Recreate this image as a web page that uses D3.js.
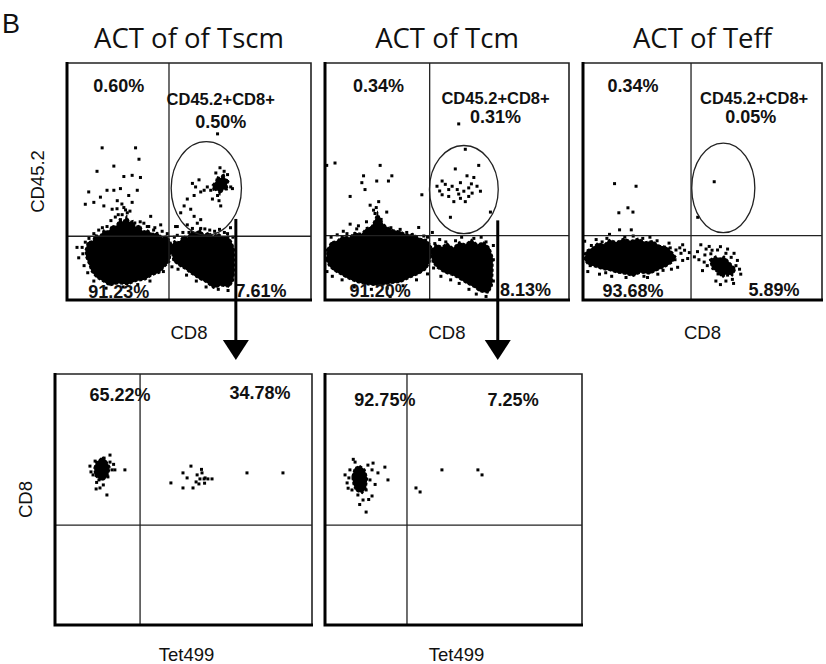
<!DOCTYPE html>
<html>
<head>
<meta charset="utf-8">
<script src="https://cdn.jsdelivr.net/npm/d3@7/dist/d3.min.js"></script>
<style>
  body { margin: 0; background: #fff; }
  svg { display: block; }
</style>
</head>
<body>
<script>
// ---- data (channel values scaled 0-100 on both axes) ----
const panelLetter = "B";
const topTitles = ["ACT of of Tscm", "ACT of Tcm", "ACT of Teff"];
const topXLabel = "CD8";
const topYLabel = "CD45.2";
const bottomXLabel = "Tet499";
const bottomYLabel = "CD8";
const gateName = "CD45.2+CD8+";

// quadrant gates [x, y] and oval gate [cx, cy, rx, ry]
const topQuadGates = [[41.8, 26.9], [42.9, 27.2], [45.2, 27.2]];
const topOvalGates = [[57.1, 47.1, 14.4, 19.7], [56.9, 46.6, 14.1, 18.6], [58.7, 47.3, 13.2, 18.9]];
const bottomQuadGates = [[33.1, 39.8], [31.9, 39.8]];

// percentages: upper-left, oval, lower-left, lower-right
const topPercents = [
  ["0.60%", "0.50%", "91.23%", "7.61%"],
  ["0.34%", "0.31%", "91.20%", "8.13%"],
  ["0.34%", "0.05%", "93.68%", "5.89%"]
];
// percentages: left, right
const bottomPercents = [["65.22%", "34.78%"], ["92.75%", "7.25%"]];

// dense event regions (outlines of the saturated clouds)
const tscmDense = [
  [[7.5,21],[8.5,24.5],[10.5,25],[11.5,27.5],[13.5,27],[15,29.5],[17,29],[18.5,31.5],[20,31],[21.5,34],[23,33],[24.5,35.5],[25.5,33],[27,33.5],[28,31],[30,31.5],[31,29],[33,29.5],[35,28],[37,28.5],[39,26.5],[41,27],[42.5,24.5],[43.5,22],[42.5,19],[42,16],[40,14],[38,11.5],[35,10.5],[32,8.5],[28.5,8],[25,6.5],[21,7],[17.5,6],[14.5,8],[12,9.5],[10,12],[9,15],[7.8,18]],
  [[42.5,22.5],[44,25],[46,24.5],[47.5,27],[49.5,26.5],[51,29],[53,28.5],[54.5,30],[56,27.5],[58,28.5],[60,27],[62,28],[64,26.5],[66,27],[67.5,24.5],[68.6,21.5],[68.6,17],[68.6,12],[68.2,8],[66.5,5.5],[63,6],[60,5],[57,7.5],[54,9],[51,11],[48.5,13],[46,14.5],[43.5,16.5]],
  [[59.6,48.5],[61,50],[61.4,52],[63,51.5],[64.1,53.5],[65,51],[66.5,50.5],[65.5,48.5],[66,46.5],[64,46.5],[62.7,44.5],[61.5,46.5],[60,46]]
];
const tcmDense = [
  [[0.5,17],[1,21.5],[2.5,24.5],[5,25],[7,27],[10,26.5],[12,28.5],[15,28],[17,30.5],[19,31],[20.5,34],[21.5,37],[22.5,34.5],[24,32],[26,30.5],[28,29.5],[31,29],[33.5,27.5],[36,28],[39,26],[41.5,25.5],[43.5,23],[44,20],[43,16],[41.5,13],[38.5,11],[35,9.5],[31,7.5],[27,7],[22,6],[17,6.5],[13,7.5],[9.5,9],[6,11],[3.5,12.5],[1.5,14.5]],
  [[43.5,21],[45.5,23.5],[48,22.5],[50,24],[52.5,22],[55,24.5],[57.5,23.5],[60,25.5],[62.5,23.5],[65,24.5],[67.5,22],[68.8,18],[68.8,12],[68.5,6],[67,3],[63.5,3.5],[61,5.5],[58,7],[55,9],[52,10.5],[49,11.5],[46,13.5],[44,16]]
];
const teffDense = [
  [[0.5,17],[1.5,21],[4,22],[6,24],[9,23.5],[11,25.5],[14,24.5],[17,26],[20,25],[23,26],[26,24.5],[29,25],[32,23],[35,22.5],[37.5,20],[39,18],[37,15.5],[34.5,14],[31,12.5],[28,11],[24,11.5],[21,10],[17.5,11],[14,11.5],[11,12.5],[8,13],[5,14],[2,15]],
  [[53,17],[55.5,18.5],[57,17.5],[59,18.5],[61.2,16],[63.9,13.1],[62.5,10.2],[60,11],[58.4,9.5],[56,12],[54,13.1]]
];

// individual events
const tscmEvents = [
  [14.4,64.2],[28.1,64.2],[29.5,59.4],[19.2,56.5],[12.3,54.3],[23.3,52.1],[26.7,52.6],[30.1,51.7],
  [8.9,45.6],[16.4,46.3],[19.2,46.3],[21.9,47.0],[25.3,44.1],[28.8,46.3],[7.5,40.4],[13.7,43.4],
  [20.6,41.9],[11.0,41.2],[15.1,39.7],[18.5,38.3],[23.3,39.0],[26.7,41.2],[24.7,36.8],[31.5,32.4],
  [34.3,35.3],[38.4,31.7],[44.5,31.0],[61.7,70.1],[4.1,22.2],[4.8,17.8],
  [51.4,49.2],[52.7,47.7],[54.1,50.7],[54.8,45.6],[52.1,44.1],[49.3,42.6],[48.0,39.7],[46.6,36.8],
  [50.7,38.3],[52.1,35.3],[53.4,32.4],[54.8,33.9],[56.2,46.3],[57.5,47.7],[58.9,46.3],[59.6,42.6],
  [61.7,44.1],[62.3,41.9],[63.0,39.7],[65.8,52.9],[67.1,47.7],[67.8,47.0],[45.2,31.0],[49.3,31.7],
  [51.4,30.2],[61.0,53.6],[62.7,55.8],[64.4,54.3],
  [6.2,22.2],[7.5,24.4],[11.0,28.0],[16.4,31.0],[21.9,33.9],[32.9,31.0],[41.1,28.0],[45.2,27.3],
  [54.8,30.2],[65.8,28.0],[22.6,36.0],[19.8,35.0],[25.8,37.5],[27.8,32.5],[14.5,30.5],[9.0,26.0],
  [47.5,28.5],[58.5,29.5],[62.5,29.8],[67.0,30.5],[35.5,29.5],[39.0,29.0],
  [20.5,38.5],[22.5,40.5],[24.0,38.0],[21.0,36.0],[18.0,33.5],[13.0,29.5],[6.5,19.5],[7.0,14.5],
  [8.5,11.5],[11.0,8.0],[16.0,5.0],[23.0,5.5],[29.0,6.5],[34.0,8.0],[39.5,12.0],[43.0,14.0],
  [44.5,19.5],[45.5,13.0],[49.0,10.5],[53.0,8.0],[57.0,5.5],[62.0,4.5],[66.0,4.0],[44.0,26.5],
  [50.0,28.5],[56.5,30.0],[60.5,29.0],[64.5,28.5],[68.0,26.5],[36.0,30.5],[30.0,33.0],[33.5,31.0]
];
const tcmEvents = [
  [4.1,57.8],[0.7,56.8],[22.6,56.8],[15.8,52.4],[27.4,52.4],[26.0,50.2],[15.1,49.5],[21.2,50.2],
  [16.4,46.6],[10.3,43.7],[18.5,40.0],[19.9,37.9],[25.3,37.1],[39.7,44.4],[10.3,32.0],[13.7,31.3],
  [38.4,30.6],[30.8,29.8],[26.7,1.5],[54.8,74.3],
  [57.5,63.6],[53.4,55.3],[63.0,56.8],[58.2,52.4],[61.0,51.7],[48.0,50.2],[45.9,48.0],[49.3,48.8],
  [52.1,48.0],[54.2,46.6],[55.5,49.5],[56.9,45.9],[58.9,47.3],[60.3,45.1],[62.3,48.0],[63.7,45.9],
  [48.0,44.4],[50.7,43.7],[52.8,41.5],[55.5,42.9],[57.5,41.5],[58.9,43.7],[51.4,34.9],[67.8,37.1],
  [50.7,46.6],[54.8,44.7],[47.0,46.0],[60.0,49.0],
  [5.0,27.5],[9.0,28.0],[17.0,33.0],[20.5,36.5],[23.0,34.0],[27.0,30.5],[33.5,28.5],[40.5,27.0],
  [0.8,21.0],[45.0,23.8],[49.5,24.5],[56.0,26.5],[61.0,26.0],[66.0,24.5],[69.0,17.0],[42.0,26.5],
  [21.0,39.0],[22.0,41.5],[2.5,26.5],[0.8,12.0],[3.0,10.0],[7.0,8.5],[12.0,5.5],[19.0,4.5],
  [25.5,5.0],[32.0,6.0],[37.5,8.5],[42.0,11.0],[44.5,13.5],[45.5,18.0],[47.5,10.0],[51.5,8.5],
  [55.0,7.0],[59.0,4.5],[62.0,2.5],[66.0,1.5],[69.0,8.0],[69.0,23.0],[64.0,26.5],[53.5,25.0],
  [47.0,25.5],[44.0,28.5],[13.0,30.0],[7.5,29.0]
];
const teffEvents = [
  [13.2,49.1],[22.2,48.0],[15.0,36.8],[18.8,38.9],[20.9,37.1],[15.3,29.6],[20.2,29.6],[11.1,27.7],
  [54.9,49.9],[48.0,34.9],[0.7,24.8],[2.8,18.2],[38.9,21.1],[41.0,19.7],[41.7,16.7],[43.8,17.5],
  [46.6,18.2],[47.9,20.4],[49.3,23.3],[52.8,22.6],[50.7,16.0],[50.0,12.4],[56.3,21.1],[59.8,19.7],
  [63.2,19.7],[64.6,16.7],[66.0,10.9],[55.6,8.0],[59.8,8.0],[62.5,8.7],[34.8,15.3],[39.6,13.8],
  [41.7,23.3],[31.3,10.9],[6.9,10.9],
  [5.5,25.5],[10.0,26.0],[17.5,26.5],[25.0,26.0],[31.0,25.0],[36.5,22.0],[38.5,17.0],[3.0,14.5],
  [9.5,11.5],[18.0,9.5],[25.5,10.0],[33.5,12.5],[53.5,19.5],[55.0,15.0],[57.5,13.0],[60.0,14.5],
  [61.5,12.0],[58.5,17.0],[52.0,14.5],[56.5,11.0],[64.0,14.5],[60.5,10.5],
  [40.5,22.0],[42.5,21.0],[44.5,20.0],[36.0,24.0],[28.0,26.5],[21.0,27.0],[8.0,24.5],[3.5,23.0],
  [1.0,19.5],[2.0,12.0],[12.0,10.0],[27.0,9.5],[37.0,13.0],[51.5,21.5],[54.0,21.0],[57.5,22.5],
  [60.5,21.5],[48.5,17.0],[51.0,19.0],[62.0,18.0],[65.5,13.0],[63.0,7.0],[57.5,6.5]
];
const tscmTetDense = [[[15.2,62.5],[16,65],[17.1,65.7],[18.5,67],[19.8,65.7],[21.4,62.9],[20.8,60],[20.2,58.9],[18.5,57.5],[17.1,58.2],[15.5,59.5]]];
const tscmTetEvents = [
  [13.6,63.3],[14.8,59.8],[15.6,65.3],[16.7,61.8],[17.1,57.8],[17.9,64.5],[18.7,60.2],[19.1,66.5],
  [19.8,62.5],[20.6,59.0],[21.4,64.9],[22.2,61.8],[17.5,54.6],[16.0,54.2],[20.2,51.8],[23.3,61.8],
  [27.2,61.8],[21.4,67.7],[14.0,61.0],[16.2,56.8],[18.8,55.8],[22.8,64.0],
  [45.1,56.6],[49.8,60.6],[52.9,63.3],[51.4,58.6],[55.3,59.8],[57.2,60.6],[58.4,58.6],[56.4,58.2],
  [58.0,58.2],[59.5,58.2],[61.1,58.2],[49.8,54.6],[53.7,54.6],[56.0,56.2],[54.9,57.0],[74.7,60.6],
  [88.7,60.6],[57.0,62.0],[58.2,56.5]
];
const tcmTetDense = [[[10.5,59],[11.5,62.5],[13.5,63.5],[15.5,62],[16.5,58.5],[16,54.5],[14.5,52.5],[12,53.5],[11,56]]];
const tcmTetEvents = [
  [7.8,59.8],[8.6,56.6],[9.7,61.8],[10.5,53.8],[11.7,64.9],[12.1,58.6],[12.8,51.8],[13.6,62.5],
  [14.0,55.8],[14.8,49.8],[15.2,59.8],[16.0,53.8],[16.7,63.7],[17.5,57.8],[18.3,61.8],[18.7,64.5],
  [20.6,60.6],[23.3,62.9],[24.5,57.8],[16.0,45.0],[18.3,51.4],[9.3,58.6],[11.3,60.0],[13.0,56.5],
  [45.5,61.8],[59.5,61.8],[61.1,59.8],[35.4,54.6],[37.0,53.0],[9.0,54.5],[13.5,48.0],[17.0,50.0],
  [19.5,56.0],[11.0,66.0]
];

const topDense = [tscmDense, tcmDense, teffDense];
const topEvents = [tscmEvents, tcmEvents, teffEvents];
const bottomDense = [tscmTetDense, tcmTetDense];
const bottomEvents = [tscmTetEvents, tcmTetEvents];

// ---- layout ----
const W = 826, H = 664;
const topBoxes = [
  {left: 67, right: 311, top: 63, bottom: 300},
  {left: 325, right: 569, top: 63, bottom: 300},
  {left: 583, right: 822, top: 63, bottom: 300}
];
const bottomBoxes = [
  {left: 55, right: 312, top: 374, bottom: 625},
  {left: 325, right: 582, top: 374, bottom: 625}
];
// label anchors (data units): upper-left, gate name, oval %, lower-left, lower-right
const topLabelPos = [
  [[21.2, 90.2], [63.0, 85.0], [63.0, 74.9], [21.2, 3.2], [79.5, 4.0]],
  [[21.9, 90.3], [69.9, 85.2], [69.9, 77.2], [22.6, 3.6], [82.2, 4.4]],
  [[20.9, 90.3], [71.6, 85.2], [70.2, 77.2], [20.9, 3.6], [79.9, 4.4]]
];
const bottomLabelPos = [[[25.3, 91.6], [79.8, 92.4]], [[23.3, 89.6], [73.2, 89.6]]];
// arrow leaves the oval gate at [x, y] of the top plot
const arrowStarts = [[69.2, 34.2], [70.8, 33.6]];

const svg = d3.select('body').append('svg').attr('width', W).attr('height', H);

let blobLine = (x, y) => d3.line().x(d => x(d[0])).y(d => y(d[1])).curve(d3.curveLinearClosed);

let drawPlot = function(box, dense, events, gate) {
  let x = d3.scaleLinear().domain([0, 100]).range([box.left, box.right]);
  let y = d3.scaleLinear().domain([0, 100]).range([box.bottom, box.top]);
  let g = svg.append('g').attr('class', 'plot');

  g.selectAll('.blob').data(dense).enter().append('path')
    .attr('class', 'blob')
    .attr('d', blobLine(x, y))
    .attr('fill', '#000')
    .attr('stroke', '#000')
    .attr('stroke-width', 1.5)
    .attr('stroke-dasharray', '3,2');

  g.selectAll('.event').data(events).enter().append('rect')
    .attr('class', 'event')
    .attr('x', d => x(d[0]) - 1.5)
    .attr('y', d => y(d[1]) - 1.5)
    .attr('width', 3)
    .attr('height', 3)
    .attr('fill', '#000');

  // quadrant gate
  g.append('line')
    .attr('x1', x(gate[0])).attr('x2', x(gate[0]))
    .attr('y1', box.top).attr('y2', box.bottom)
    .attr('stroke', '#222').attr('stroke-width', 1.3);
  g.append('line')
    .attr('x1', box.left).attr('x2', box.right)
    .attr('y1', y(gate[1])).attr('y2', y(gate[1]))
    .attr('stroke', '#222').attr('stroke-width', 1.3);

  // frame: thin top/right, heavy left/bottom
  g.append('path')
    .attr('d', `M${box.left},${box.top}H${box.right}V${box.bottom}`)
    .attr('fill', 'none').attr('stroke', '#222').attr('stroke-width', 1.6);
  g.append('path')
    .attr('d', `M${box.left},${box.top - 1}V${box.bottom}H${box.right + 1}`)
    .attr('fill', 'none').attr('stroke', '#000').attr('stroke-width', 3);

  return {x: x, y: y, g: g};
};

let pctText = function(g, px, py, str, size) {
  g.append('text')
    .attr('x', px).attr('y', py)
    .attr('text-anchor', 'middle')
    .attr('dominant-baseline', 'central')
    .attr('font-family', 'Liberation Sans, Arial, sans-serif')
    .attr('font-weight', 'bold')
    .attr('font-size', size)
    .attr('fill', '#111')
    .text(str);
};

let axisText = function(px, py, str, rotate) {
  let t = svg.append('text')
    .attr('text-anchor', 'middle')
    .attr('font-family', 'Liberation Sans, Arial, sans-serif')
    .attr('font-size', 18.5)
    .attr('fill', '#111')
    .text(str);
  if (rotate) t.attr('transform', 'translate(' + [px, py] + ') rotate(-90)');
  else t.attr('x', px).attr('y', py);
};

// panel letter
svg.append('text').attr('x', 2).attr('y', 33)
  .attr('font-family', 'Liberation Sans, Arial, sans-serif')
  .attr('font-size', 27).attr('fill', '#111').text(panelLetter);

// top row
let topPlots = topBoxes.map((box, i) => {
  let p = drawPlot(box, topDense[i], topEvents[i], topQuadGates[i]);
  let ov = topOvalGates[i];
  p.g.append('ellipse')
    .attr('cx', p.x(ov[0])).attr('cy', p.y(ov[1]))
    .attr('rx', p.x(ov[0] + ov[2]) - p.x(ov[0]))
    .attr('ry', p.y(ov[1]) - p.y(ov[1] + ov[3]))
    .attr('fill', 'none').attr('stroke', '#222').attr('stroke-width', 1.3);

  let pos = topLabelPos[i];
  let pc = topPercents[i];
  pctText(p.g, p.x(pos[0][0]), p.y(pos[0][1]), pc[0], 18);
  pctText(p.g, p.x(pos[1][0]), p.y(pos[1][1]), gateName, 16.5);
  pctText(p.g, p.x(pos[2][0]), p.y(pos[2][1]), pc[1], 18);
  pctText(p.g, p.x(pos[3][0]), p.y(pos[3][1]), pc[2], 18);
  pctText(p.g, p.x(pos[4][0]), p.y(pos[4][1]), pc[3], 18);

  let cx = (box.left + box.right) / 2;
  svg.append('text')
    .attr('x', cx).attr('y', 48)
    .attr('text-anchor', 'middle')
    .attr('font-family', 'Open Sans, sans-serif')
    .attr('font-size', 27.5).attr('fill', '#111')
    .text(topTitles[i]);
  axisText(cx, 339, topXLabel, false);
  return p;
});
axisText(44, (topBoxes[0].top + topBoxes[0].bottom) / 2, topYLabel, true);

// bottom row
bottomBoxes.forEach((box, i) => {
  let p = drawPlot(box, bottomDense[i], bottomEvents[i], bottomQuadGates[i]);
  let pos = bottomLabelPos[i];
  pctText(p.g, p.x(pos[0][0]), p.y(pos[0][1]), bottomPercents[i][0], 18);
  pctText(p.g, p.x(pos[1][0]), p.y(pos[1][1]), bottomPercents[i][1], 18);
  axisText((box.left + box.right) / 2 + 3, 661, bottomXLabel, false);
});
axisText(32, (bottomBoxes[0].top + bottomBoxes[0].bottom) / 2, bottomYLabel, true);

// arrows from the oval gates down to the tetramer plots
arrowStarts.forEach((a, i) => {
  let p = topPlots[i];
  let ax = p.x(a[0]);
  let tip = bottomBoxes[i].top - 14;
  svg.append('line')
    .attr('x1', ax).attr('x2', ax)
    .attr('y1', p.y(a[1])).attr('y2', tip - 18)
    .attr('stroke', '#000').attr('stroke-width', 3);
  svg.append('path')
    .attr('d', `M${ax - 13},${tip - 20}L${ax + 13},${tip - 20}L${ax},${tip}Z`)
    .attr('fill', '#000');
});
</script>
</body>
</html>
